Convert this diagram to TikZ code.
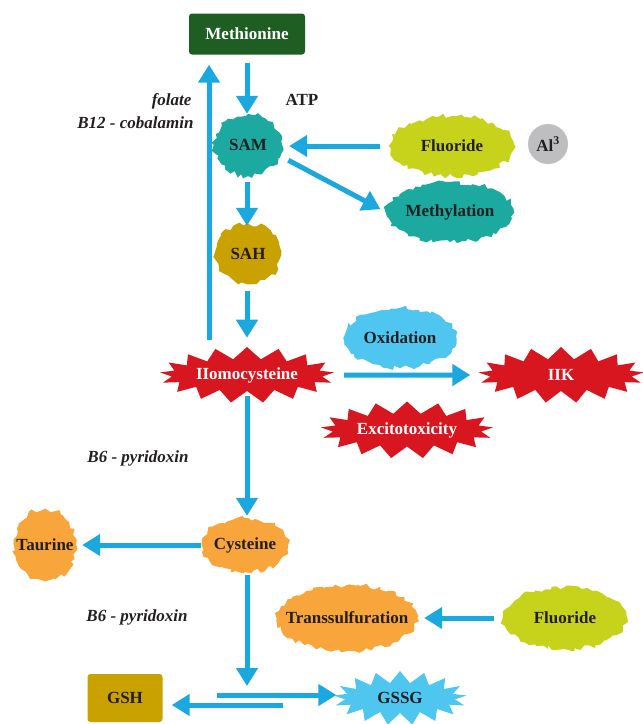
\documentclass[tikz,border=0pt]{standalone}
\usepackage{fontspec}
\setmainfont{Liberation Serif}
\usepackage{tikz}
\usetikzlibrary{arrows.meta, shapes.symbols, shapes.geometric, decorations.pathmorphing, calc}

\definecolor{flowblue}{HTML}{1BA8DE}
\definecolor{metgreen}{HTML}{1E5E22}
\definecolor{samteal}{HTML}{1CA9A0}
\definecolor{fluolime}{HTML}{C6D31A}
\definecolor{sahgold}{HTML}{C9A200}
\definecolor{hcyred}{HTML}{D8161F}
\definecolor{oxblue}{HTML}{4EC6F0}
\definecolor{cysorange}{HTML}{F8A63B}
\definecolor{algrey}{HTML}{BEBEC0}
\definecolor{inkdark}{HTML}{231F20}

% brush labels may run past their stroke
\newcommand{\brushlabel}[1]{\makebox[0pt]{#1}}

\begin{document}
\pgfmathsetseed{7}
\begin{tikzpicture}[x=1pt, y=-1pt,
  font=\fontsize{17}{20}\selectfont\bfseries,
  flow/.style={draw=flowblue, line width=5pt, -{Triangle[width=21pt,length=18pt]}},
  brush/.style={ellipse, fill=#1, text=inkdark, inner sep=0pt, decorate,
    decoration={random steps, segment length=4pt, amplitude=2.5pt}},
  burst/.style={starburst, fill=#1, text=white, inner sep=0pt,
    starburst points=17, starburst point height=12pt, random starburst=0},
  box/.style={rectangle, rounded corners=3pt, inner sep=2pt},
  cofactor/.style={text=inkdark, font=\fontsize{17}{20}\selectfont\bfseries\itshape}]
  \useasboundingbox (0,0) rectangle (643,724);

  % Methionine cycle
  \node[box, fill=metgreen, text=white, minimum width=116pt, minimum height=41pt] (met) at (247,34) {Methionine};
  \node[brush=samteal, minimum width=68pt, minimum height=62pt] (sam) at (248,145) {\brushlabel{SAM}};
  \node[text=inkdark] (atp) at (302,100) {ATP};
  \node[cofactor, anchor=east] (fol) at (195,101) {folate};
  \node[cofactor, anchor=east] (b12) at (197,123) {B12 - cobalamin};
  \node[brush=sahgold, minimum width=66pt, minimum height=60pt] (sah) at (248,254) {\brushlabel{SAH}};

  % Fluoride and methylation (top right)
  \node[brush=fluolime, minimum width=126pt, minimum height=60pt] (fluA) at (452,146) {\brushlabel{Fluoride}};
  \node[circle, fill=algrey, text=inkdark, minimum size=40pt, inner sep=0pt] (al) at (548,144) {Al\textsuperscript{3}};
  \node[brush=samteal, minimum width=128pt, minimum height=60pt] (mety) at (450,212) {\brushlabel{Methylation}};

  % Homocysteine and its effects
  \node[burst=hcyred, minimum width=175pt, minimum height=56pt] (hcy) at (247,375) {IIomocysteine};
  \node[brush=oxblue, minimum width=112pt, minimum height=60pt] (oxi) at (400,338) {\brushlabel{Oxidation}};
  \node[burst=hcyred, minimum width=166pt, minimum height=56pt] (iik) at (561,375) {IIK};
  \node[burst=hcyred, minimum width=173pt, minimum height=57pt] (exc) at (407,430) {Excitotoxicity};

  % Transsulfuration (bottom)
  \node[cofactor] (b6a) at (138,458) {B6 - pyridoxin};
  \node[brush=cysorange, minimum width=86pt, minimum height=54pt] (cys) at (245,545) {\brushlabel{Cysteine}};
  \node[brush=cysorange, minimum width=62pt, minimum height=72pt] (tau) at (45,545) {\brushlabel{Taurine}};
  \node[cofactor] (b6b) at (137,617) {B6 - pyridoxin};
  \node[brush=cysorange, minimum width=140pt, minimum height=66pt] (trs) at (347,618) {\brushlabel{Transsulfuration}};
  \node[brush=fluolime, minimum width=124pt, minimum height=62pt] (fluB) at (565,618) {\brushlabel{Fluoride}};
  \node[box, fill=sahgold, text=inkdark, minimum width=75pt, minimum height=48pt] (gsh) at (125,698) {GSH};
  \node[burst=oxblue, text=inkdark, minimum width=134pt, minimum height=54pt] (gssg) at (400,698) {GSSG};
  \coordinate (gsplit) at (247,700);

  % Arrows
  \draw[flow, shorten <=8pt] (met.south) -- (met.south |- sam.north);
  \draw[flow, shorten <=7pt, shorten >=10pt] ([xshift=-38pt]hcy.north) -- ([xshift=-38pt]hcy.north |- met.south);
  \draw[flow, shorten <=9pt, shorten >=7pt] (fluA.west) -- (fluA.west -| sam.east);
  \draw[flow, shorten <=7pt, shorten >=6pt] ([yshift=-12pt]sam.east) -- (mety.west);
  \draw[flow, shorten <=6pt, shorten >=-2pt] (met.south |- sam.south) -- (met.south |- sah.north);
  \draw[flow, shorten <=7pt, shorten >=9pt] (hcy.north |- sah.south) -- (hcy.north);
  \draw[flow, shorten <=17pt, shorten >=15pt] (hcy.east) -- (iik.west);
  \draw[flow, shorten <=5pt, shorten >=2pt] (hcy.south) -- (hcy.south |- cys.north);
  \draw[flow, shorten <=1pt, shorten >=6pt] (cys.west) -- (tau.east);
  \draw[flow, shorten <=3pt] (gsplit |- cys.south) -- ([yshift=14pt]gsplit);
  \draw[flow, shorten <=9pt, shorten >=7pt] (fluB.west) -- (fluB.west -| trs.east);
  \draw[flow, shorten >=4pt] ([xshift=-30pt,yshift=5pt]gsplit) -- ([yshift=5pt]gsplit -| gssg.west);
  \draw[flow, shorten >=9pt] ([xshift=36pt,yshift=-5pt]gsplit) -- ([yshift=-5pt]gsplit -| gsh.east);
\end{tikzpicture}
\end{document}
